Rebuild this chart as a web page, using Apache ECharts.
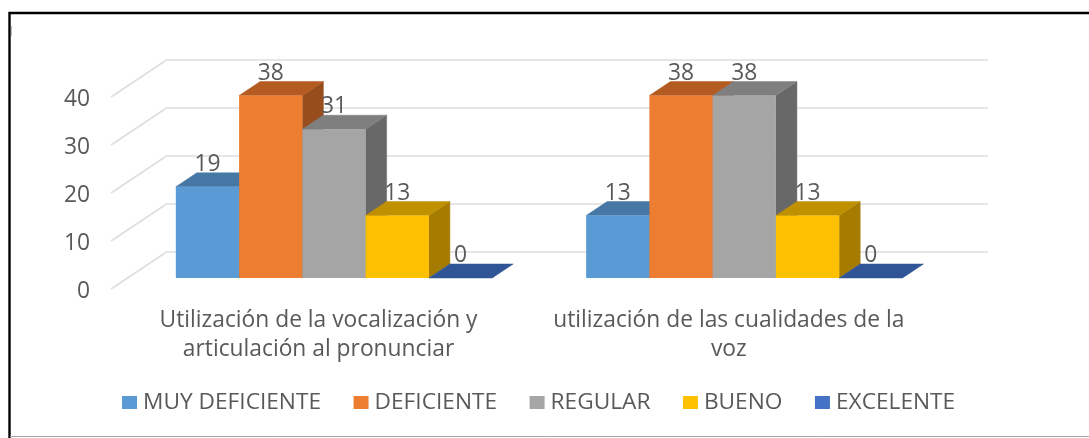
<!DOCTYPE html>
<html><head><meta charset="utf-8">
<style>html,body{margin:0;padding:0;background:#fff}#c{width:1089px;height:438px}</style>
<script src="https://cdn.jsdelivr.net/npm/echarts@6/dist/echarts.min.js"></script>
</head><body><div id="c"></div>
<script>
const categories = ['Utilización de la vocalización y\narticulación al pronunciar', 'utilización de las cualidades de la\nvoz'];
const seriesNames = ['MUY DEFICIENTE', 'DEFICIENTE', 'REGULAR', 'BUENO', 'EXCELENTE'];
const muyDeficiente = [19, 13];
const deficiente = [38, 38];
const regular = [31, 38];
const bueno = [13, 13];
const excelente = [0, 0];
const yTicks = [0, 10, 20, 30, 40];

const seriesValues = [muyDeficiente, deficiente, regular, bueno, excelente];
const faceColors = [
  {front:'#5B9BD5', top:'#4678A5', side:'#3F6C95'},
  {front:'#ED7D31', top:'#B35B20', side:'#984E1C'},
  {front:'#A5A5A5', top:'#7F7F7F', side:'#686868'},
  {front:'#FFC000', top:'#BF9000', side:'#A67C00'},
  {front:'#4472C4', top:'#2F5597', side:'#2A4C88'}
];
const FONT = '"Open Sans", sans-serif';
const TEXT = '#595959';
const BAR_DX = 21, BAR_DY = 14;
const WALL_DX = 55.4, WALL_DY = 37;
const LABEL_DROP = 3;
const GROUP_RATIO = 0.771;

function barSeries(idx) {
  const c = faceColors[idx];
  return {
    name: seriesNames[idx], type: 'custom', xAxisIndex: 1, yAxisIndex: 1,
    itemStyle: {color: c.front},
    encode: {x: 0, y: 1},
    data: seriesValues[idx].map((v, i) => [i, v]),
    clip: false,
    renderItem(params, api) {
      const top = api.coord([api.value(0), api.value(1)]);
      const base = api.coord([api.value(0), 0]);
      const w = api.size([1, 0])[0] * GROUP_RATIO / 5;
      const x0 = top[0] + (idx - 2.5) * w, x1 = x0 + w;
      const yt = top[1], yb = base[1];
      const poly = (pts, fill) => ({type: 'polygon', shape: {points: pts}, style: {fill: fill, stroke: fill, lineWidth: 0.5}});
      const children = [];
      if (yb > yt) children.push(poly([[x1, yt], [x1 + BAR_DX, yt - BAR_DY], [x1 + BAR_DX, yb - BAR_DY], [x1, yb]], c.side));
      children.push(poly([[x0, yt], [x0 + BAR_DX, yt - BAR_DY], [x1 + BAR_DX, yt - BAR_DY], [x1, yt]], c.top));
      if (yb > yt) children.push({type: 'rect', shape: {x: x0, y: yt, width: w, height: yb - yt}, style: {fill: c.front}});
      children.push({type: 'text', x: x0 + w / 2, y: yt - 22.5, style: {
        text: String(api.value(1)), fill: TEXT, font: '22.8px ' + FONT, align: 'center', verticalAlign: 'middle'}});
      return {type: 'group', children};
    }
  };
}

const wallSeries = {
  name: 'walls', type: 'custom', xAxisIndex: 0, yAxisIndex: 0, silent: true, clip: false, z: 1,
  encode: {y: 1},
  data: yTicks.map(t => [0, t]),
  renderItem(params, api) {
    const p = api.coord([0, api.value(1)]);
    const cs = params.coordSys;
    const x = cs.x, y = p[1] - LABEL_DROP;
    return {type: 'polyline', shape: {points: [[x, y], [x + WALL_DX, y - WALL_DY], [x + cs.width + WALL_DX, y - WALL_DY]]},
      style: {fill: null, stroke: '#DEDEDE', lineWidth: 1.6}};
  }
};

const chart = echarts.init(document.getElementById('c'), null, {renderer: 'canvas'});
chart.setOption({
  animation: false,
  backgroundColor: '#fff',
  grid: [
    {left: 111, width: 821.6, top: 97 + LABEL_DROP, height: 192},
    {left: 128.85, width: 820.6, top: 86, height: 192}
  ],
  xAxis: [
    {gridIndex: 0, type: 'category', data: categories, show: false},
    {gridIndex: 1, type: 'category', data: categories,
      axisLine: {show: false}, axisTick: {show: false}, splitLine: {show: false},
      axisLabel: {color: TEXT, fontFamily: FONT, fontSize: 22.8, lineHeight: 29, margin: 28, padding: [0, 31, 0, 0], interval: 0, hideOverlap: false}}
  ],
  yAxis: [
    {gridIndex: 0, type: 'value', min: 0, max: 40, interval: 10,
      axisLine: {show: false}, axisTick: {show: false}, splitLine: {show: false},
      axisLabel: {color: TEXT, fontFamily: FONT, fontSize: 22.8, margin: 21}},
    {gridIndex: 1, type: 'value', min: 0, max: 40, interval: 10, show: false, splitLine: {show: false}}
  ],
  legend: {
    left: 122, top: 391, padding: 0, itemWidth: 15, itemHeight: 13, itemGap: 32.5,
    icon: 'rect', data: seriesNames,
    textStyle: {color: TEXT, fontFamily: FONT, fontSize: 22.7, padding: [0, 0, 0, 1]}
  },
  graphic: [
    {type: 'polyline', silent: true, z: 100, shape: {points: [[9.5, 438], [9.5, 13], [1089, 13]]}, style: {fill: null, stroke: '#000', lineWidth: 2.4}},
    {type: 'line', silent: true, z: 100, shape: {x1: 10, y1: 436.5, x2: 1089, y2: 436.5}, style: {stroke: '#A6A6A6', lineWidth: 1}},
    {type: 'line', silent: true, z: 100, shape: {x1: 11.5, y1: 26, x2: 11.5, y2: 36}, style: {stroke: '#BBBBBB', lineWidth: 1}}
  ],
  series: [wallSeries].concat(seriesNames.map((n, i) => barSeries(i)))
});
</script></body></html>
